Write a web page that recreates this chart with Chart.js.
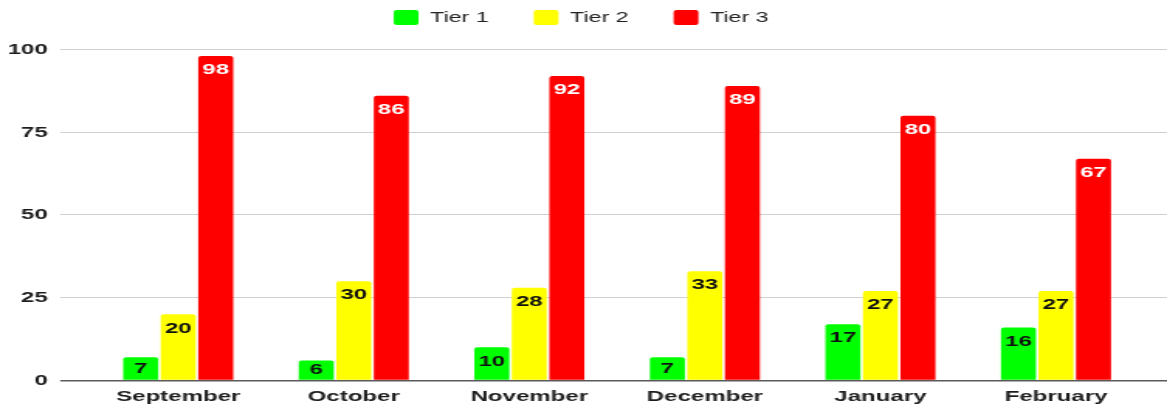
<!DOCTYPE html>
<html>
<head>
<meta charset="utf-8">
<style>
  html, body { margin: 0; padding: 0; background: #ffffff; overflow: hidden; }
  canvas { display: block; }
</style>
<script src="https://cdn.jsdelivr.net/npm/chart.js@4.4.1/dist/chart.umd.min.js"></script>
</head>
<body>
<!-- the reference is a horizontally stretched screenshot, so the canvas is stretched the same way -->
<canvas id="chart" width="753" height="407" style="width:1167px;height:407px"></canvas>
<script>
"use strict";

const months = ["September", "October", "November", "December", "January", "February"];
const tier1 = [7, 6, 10, 7, 17, 16];
const tier2 = [20, 30, 28, 33, 27, 27];
const tier3 = [98, 86, 92, 89, 80, 67];
const seriesNames = ["Tier 1", "Tier 2", "Tier 3"];
const yMin = 0;
const yMax = 100;
const yStep = 25;

const fontFamily = "'Liberation Sans', Arial, sans-serif";

/** @type {(context: any) => string} */
const gridColor = (context) =>
  context.tick && context.tick.value === 0 ? "#5a5a5a" : "#d0d0d0";

/** @type {(context: any) => number} */
const gridWidth = (context) =>
  context.tick && context.tick.value === 0 ? 1.5 : 1;

// value labels drawn inside the top of each bar
const barLabels = {
  id: "barLabels",
  afterDatasetsDraw: (chart) => {
    const { ctx } = chart;
    ctx.save();
    ctx.font = `bold 15.5px ${fontFamily}`;
    ctx.textAlign = "center";
    ctx.textBaseline = "middle";
    chart.data.datasets.forEach((dataset, i) => {
      const meta = chart.getDatasetMeta(i);
      meta.data.forEach((bar, j) => {
        const { x, y, base } = bar.getProps(["x", "y", "base"], true);
        const cy = Math.min(y + 14, (y + base) / 2);
        ctx.fillStyle = dataset.labelColor;
        ctx.fillText(String(dataset.data[j]), x, cy);
      });
    });
    ctx.restore();
  },
};

// leave a gap between the legend and the plot
const legendGap = {
  id: "legendGap",
  beforeInit: (chart) => {
    const legend = chart.legend;
    const fit = legend.fit;
    legend.fit = function () {
      fit.call(this);
      this.height += 14.5;
    };
  },
};

const main = () => {
  const canvas = document.getElementById("chart");
  if (!(canvas instanceof HTMLCanvasElement)) throw new Error();

  Chart.defaults.font.family = fontFamily;
  Chart.defaults.color = "#1e1e1e";

  const makeDataset = (label, data, color, labelColor) => ({
    label,
    data,
    backgroundColor: color,
    borderWidth: 0,
    borderRadius: 2,
    borderSkipped: "start",
    categoryPercentage: 0.641,
    barPercentage: 0.934,
    labelColor,
  });

  new Chart(canvas, {
    type: "bar",
    data: {
      labels: months,
      datasets: [
        makeDataset(seriesNames[0], tier1, "#00ff00", "#111111"),
        makeDataset(seriesNames[1], tier2, "#ffff00", "#111111"),
        makeDataset(seriesNames[2], tier3, "#ff0000", "#ffffff"),
      ],
    },
    options: {
      responsive: false,
      animation: false,
      layout: { padding: { top: -19, left: -3, right: 0, bottom: -6 } },
      plugins: {
        tooltip: { enabled: false },
        legend: {
          position: "top",
          labels: {
            boxWidth: 16,
            boxHeight: 15,
            padding: 29,
            useBorderRadius: true,
            borderRadius: 2,
            color: "#222222",
            font: { size: 15 },
          },
        },
      },
      scales: {
        x: {
          grid: { display: false, drawTicks: false },
          border: { display: false },
          ticks: { padding: 7, maxRotation: 0, font: { size: 15.5, weight: "bold" } },
        },
        y: {
          min: yMin,
          max: yMax,
          ticks: { stepSize: yStep, padding: 8, font: { size: 15.5, weight: "bold" } },
          grid: { color: gridColor, lineWidth: gridWidth, tickLength: 19.5 },
          border: { display: false },
        },
        y2: {
          type: "linear",
          position: "right",
          min: yMin,
          max: yMax,
          ticks: { stepSize: yStep, display: false },
          grid: {
            color: gridColor,
            lineWidth: gridWidth,
            tickLength: 15,
            drawOnChartArea: false,
          },
          border: { display: false },
        },
      },
    },
    plugins: [barLabels, legendGap],
  });
};

main();
</script>
</body>
</html>
